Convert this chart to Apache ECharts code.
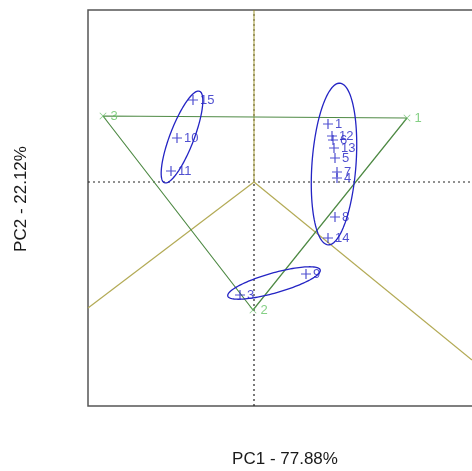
<!DOCTYPE html>
<html>
<head>
<meta charset="utf-8">
<script src="https://cdn.jsdelivr.net/npm/echarts@6/dist/echarts.min.js"></script>
<style>html,body{margin:0;padding:0;background:#fff}#c{width:472px;height:471px}</style>
</head>
<body>
<div id="c"></div>
<script>
// Sample scores (PC1, PC2)
var sampleNames = ['1','12','6','13','5','7','4','8','14','9','3','10','11','15'];
var samplePC1 = [0.74, 0.78, 0.79, 0.80, 0.81, 0.83, 0.83, 0.81, 0.74, 0.52, -0.14, -0.77, -0.83, -0.61];
var samplePC2 = [0.58, 0.46, 0.42, 0.34, 0.24, 0.10, 0.04, -0.35, -0.56, -0.92, -1.13, 0.44, 0.11, 0.82];
// Triangle vertices (green)
var vertexNames = ['1','2','3'];
var vertexPC1 = [1.53, -0.01, -1.51];
var vertexPC2 = [0.64, -1.28, 0.66];
// Boundary rays from the origin (olive)
var rayEndPC1 = [0.00, -1.66, 2.18];
var rayEndPC2 = [1.72, -1.26, -1.78];
// Group ellipses: centre, semi-axes, rotation (deg)
var ellCX = [-0.72, 0.80, 0.20];
var ellCY = [0.45, 0.18, -1.01];
var ellA = [0.49, 0.81, 0.48];
var ellB = [0.12, 0.22, 0.10];
var ellAngle = [69, 85.8, 15.8];
// Axis extents
var xMin = -1.66, xMax = 2.5, yMin = -2.24, yMax = 1.72;

var chart = echarts.init(document.getElementById('c'));
var FONT = 'Liberation Sans, Arial, sans-serif';
var BLUE = '#2424c4';

var triData = [];
for (var i = 0; i <= 3; i++) { var k = i % 3; triData.push([vertexPC1[k], vertexPC2[k]]); }
var series = [];
// dotted reference lines
series.push({type:'line', data:[[xMin,0],[xMax,0]], symbol:'none', silent:true,
  lineStyle:{color:'#222', width:1.2, type:[2,3]}, z:1});
series.push({type:'line', data:[[0,yMin],[0,yMax]], symbol:'none', silent:true,
  lineStyle:{color:'#222', width:1.2, type:[2,3]}, z:1});
// olive rays
for (var r = 0; r < rayEndPC1.length; r++) {
  series.push({type:'line', data:[[0,0],[rayEndPC1[r], rayEndPC2[r]]], symbol:'none', silent:true,
    lineStyle:{color:'#b3aa55', width:1.2}, z:2});
}
// green triangle
series.push({type:'line', data:triData, symbol:'none', silent:true,
  lineStyle:{color:'#4f8a45', width:1.2}, z:3});
// vertex markers
series.push({type:'scatter', silent:true, z:4,
  data: vertexNames.map(function(n,i){return {name:n, value:[vertexPC1[i], vertexPC2[i]]};}),
  symbol:'path://M0,0.7L0.7,0L5,4.3L9.3,0L10,0.7L5.7,5L10,9.3L9.3,10L5,5.7L0.7,10L0,9.3L4.3,5Z',
  symbolSize:7, itemStyle:{color:'#66bb66'},
  label:{show:true, position:'right', distance:4, formatter:'{b}', color:'#66c466', fontSize:13, fontFamily:FONT}
});
// ellipses
series.push({type:'custom', silent:true, z:5,
  data: ellCX.map(function(c,i){return [ellCX[i], ellCY[i], ellA[i], ellB[i], ellAngle[i]];}),
  renderItem:function(params, api){
    var c = api.coord([api.value(0), api.value(1)]);
    var o = api.coord([0,0]);
    var ax = api.coord([api.value(2),0])[0] - o[0];
    var by = api.coord([api.value(3),0])[0] - o[0];
    var th = api.value(4) * Math.PI / 180;
    var pts = [];
    for (var t = 0; t < 120; t++) {
      var u = t / 120 * Math.PI * 2;
      var ex = ax * Math.cos(u), ey = by * Math.sin(u);
      pts.push([c[0] + ex*Math.cos(th) - ey*Math.sin(th), c[1] - (ex*Math.sin(th) + ey*Math.cos(th))]);
    }
    return {type:'polygon', shape:{points:pts}, style:{fill:'none', stroke:BLUE, lineWidth:1.3}};
  }
});
// samples
series.push({type:'scatter', silent:true, z:6,
  data: sampleNames.map(function(n,i){return {name:n, value:[samplePC1[i], samplePC2[i]]};}),
  symbol:'path://M0,4.4H10V5.6H0Z M4.4,0H5.6V10H4.4Z',
  symbolSize:10, itemStyle:{color:BLUE},
  label:{show:true, position:'right', distance:2, formatter:'{b}', color:BLUE, fontSize:13, fontFamily:FONT}
});

chart.setOption({
  animation:false,
  backgroundColor:'#fff',
  grid:{left:88, top:10, width:416, height:396, outerBoundsMode:'none', containLabel:false,
    show:true, borderColor:'#555', borderWidth:1.5, backgroundColor:'transparent'},
  xAxis:{type:'value', min:xMin, max:xMax, axisLine:{show:false}, axisTick:{show:false}, axisLabel:{show:false}, splitLine:{show:false},
    name:'PC1 - 77.88%', nameLocation:'middle', nameGap:45,
    nameTextStyle:{fontSize:17, color:'#1a1a1a', fontFamily:FONT, padding:[0,22,0,0]}},
  yAxis:{type:'value', min:yMin, max:yMax, axisLine:{show:false}, axisTick:{show:false}, axisLabel:{show:false}, splitLine:{show:false},
    name:'PC2 - 22.12%', nameLocation:'middle', nameGap:58,
    nameTextStyle:{fontSize:17, color:'#1a1a1a', fontFamily:FONT, padding:[0,0,0,18]}},
  series:series
});
</script>
</body>
</html>
